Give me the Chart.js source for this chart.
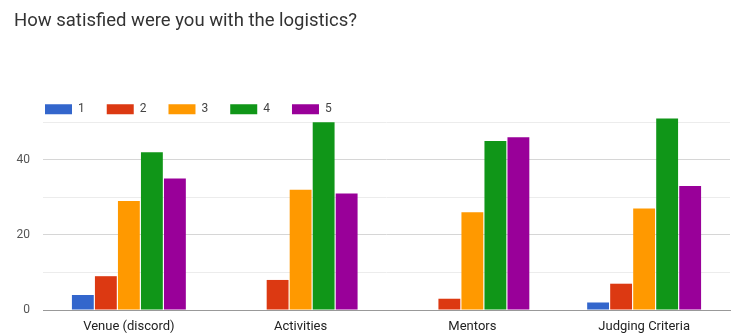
<!DOCTYPE html>
<html lang="en">
<head>
    <meta charset="UTF-8">
    <title>How satisfied were you with the logistics?</title>
    <script src="https://cdn.jsdelivr.net/npm/chart.js"></script>
    <style>
        html, body { margin: 0; padding: 0; background: #fff; }
        #wrap { width: 731px; height: 335px; }
    </style>
</head>
<body>
    <div id="wrap"><canvas id="logisticsChart"></canvas></div>
    <script>
        const categories = ['Venue (discord)', 'Activities', 'Mentors', 'Judging Criteria'];
        const ratingLabels = ['1', '2', '3', '4', '5'];
        const rating1 = [4, 0, 0, 2];
        const rating2 = [9, 8, 3, 7];
        const rating3 = [29, 32, 26, 27];
        const rating4 = [42, 50, 45, 51];
        const rating5 = [35, 31, 46, 33];
        const yTicks = [0, 10, 20, 30, 40, 50];
        const yLabelled = [0, 20, 40];

        const colors = ['#3366cc', '#dc3912', '#ff9900', '#109618', '#990099'];
        const series = [rating1, rating2, rating3, rating4, rating5];

        // nudge the legend to where the reference puts it
        const legendShift = {
            id: 'legendShift',
            afterLayout(chart) {
                chart.legend.left += 9;
                chart.legend.top += 3;
            }
        };

        const ctx = document.getElementById('logisticsChart').getContext('2d');
        new Chart(ctx, {
            type: 'bar',
            data: {
                labels: categories,
                datasets: series.map((values, i) => ({
                    label: ratingLabels[i],
                    data: values,
                    backgroundColor: colors[i],
                    borderWidth: 0,
                    categoryPercentage: 0.67,
                    barPercentage: 0.95,
                    clip: false
                }))
            },
            options: {
                responsive: true,
                maintainAspectRatio: false,
                animation: false,
                layout: { padding: { left: 14, right: 1, top: 0, bottom: 0 } },
                plugins: {
                    title: {
                        display: true,
                        text: 'How satisfied were you with the logistics?',
                        align: 'start',
                        color: '#333',
                        font: { family: 'Roboto', size: 18.5, weight: 'normal' },
                        padding: { top: 10, bottom: 46 }
                    },
                    legend: {
                        position: 'top',
                        align: 'start',
                        labels: {
                            boxWidth: 27,
                            boxHeight: 10,
                            padding: 22,
                            color: '#444',
                            font: { family: 'Roboto', size: 12 }
                        }
                    },
                    tooltip: { enabled: false }
                },
                scales: {
                    x: {
                        afterFit(scale) { scale.height = 25; },
                        grid: { display: false },
                        border: { display: true, color: '#999', width: 1 },
                        ticks: {
                            color: '#222',
                            padding: 1,
                            font: { family: 'Roboto', size: 13 }
                        }
                    },
                    y: {
                        min: 0,
                        max: 50,
                        afterFit(scale) { scale.width = 29; },
                        afterBuildTicks(scale) {
                            scale.ticks = yTicks.map(v => ({ value: v }));
                        },
                        border: { display: false },
                        grid: {
                            drawTicks: false,
                            color: c => c.tick.value === 0 ? 'rgba(0,0,0,0)' :
                                (yLabelled.includes(c.tick.value) ? '#d6d6d6' : '#ececec')
                        },
                        ticks: {
                            color: '#555',
                            padding: 13,
                            font: { family: 'Roboto', size: 12 },
                            callback: v => yLabelled.includes(v) ? String(v) : ''
                        }
                    }
                }
            },
            plugins: [legendShift]
        });
    </script>
</body>
</html>
